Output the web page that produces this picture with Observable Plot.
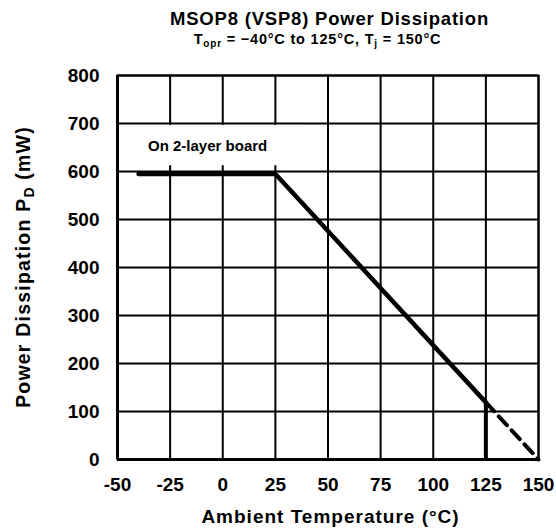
<!DOCTYPE html>
<html>
<head>
<meta charset="utf-8">
<script src="https://cdn.jsdelivr.net/npm/d3@7"></script>
<script src="https://cdn.jsdelivr.net/npm/@observablehq/plot@0.6"></script>
<style>
  html, body { margin: 0; padding: 0; background: #fff; }
  #chart svg { display: block; font-family: "Liberation Sans", Arial, sans-serif; }
</style>
</head>
<body>
<div id="chart"></div>
<script>
// Data
const xTicks = [-50, -25, 0, 25, 50, 75, 100, 125, 150];
const yTicks = [0, 100, 200, 300, 400, 500, 600, 700, 800];
const solidTemps = [-40, 25, 125];
const solidPower = [595, 595, 119];
const dashTemps = [125, 150];
const dashPower = [119, 0];
const limitTemp = [125];
const limitPower = [119];
const boardLabel = ["On 2-layer board"];
const labelBox = {x1: -50, x2: 37, y1: 612, y2: 696};
const labelPos = {x: -35.5, y: 652};

const solid = solidTemps.map((t, i) => ({t, p: solidPower[i]}));
const dashed = dashTemps.map((t, i) => ({t, p: dashPower[i]}));

const W = 556, H = 532;
const plot = Plot.plot({
  width: W,
  height: H,
  marginTop: 75,
  marginBottom: 73,
  marginLeft: 117,
  marginRight: 18,
  x: {domain: [-50, 150]},
  y: {domain: [0, 800]},
  style: {fontFamily: "'Liberation Sans', Arial, sans-serif", background: "#fff"},
  marks: [
    Plot.ruleX(xTicks, {stroke: "#000", strokeWidth: 2, strokeOpacity: 1}),
    Plot.ruleY(yTicks, {stroke: "#000", strokeWidth: 2, strokeOpacity: 1}),
    Plot.rect([labelBox], {x1: "x1", x2: "x2", y1: "y1", y2: "y2", fill: "#fff"}),
    Plot.text(boardLabel, {x: labelPos.x, y: labelPos.y, text: d => d, textAnchor: "start", fontSize: 15, fontWeight: "bold", fill: "#000"}),
    Plot.frame({stroke: "#000", strokeWidth: 2}),
    Plot.ruleX([-50], {stroke: "#000", strokeWidth: 3}),
    Plot.ruleY([0], {stroke: "#000", strokeWidth: 3}),
    Plot.line(solid, {x: "t", y: "p", stroke: "#000", strokeWidth: 4.5, strokeLinejoin: "miter"}),
    Plot.line(dashed, {x: "t", y: "p", stroke: "#000", strokeWidth: 4, strokeDasharray: "12,7"}),
    Plot.ruleX(limitTemp, {y1: 0, y2: (d, i) => limitPower[i], stroke: "#000", strokeWidth: 4}),
    Plot.axisX(xTicks, {tickSize: 0, tickPadding: 18, fontSize: 19, fontWeight: "bold", tickFormat: d => String(d), label: null, fill: "#000"}),
    Plot.axisY(yTicks, {tickSize: 0, tickPadding: 18, fontSize: 19, fontWeight: "bold", tickFormat: d => String(d), label: null, fill: "#000"})
  ]
});

const svg = d3.select(plot);
const cx = (117 + (W - 18)) / 2;
const cy = (75 + (H - 73)) / 2;

svg.append("text")
  .attr("x", cx + 2).attr("y", 25)
  .attr("text-anchor", "middle")
  .attr("font-size", 18.5).attr("font-weight", "bold")
  .style("letter-spacing", "0.8px")
  .text("MSOP8 (VSP8) Power Dissipation");

const sub = svg.append("text")
  .attr("x", cx - 10).attr("y", 44)
  .attr("text-anchor", "middle")
  .attr("font-size", 14.5).attr("font-weight", "bold")
  .style("letter-spacing", "0.8px");
sub.append("tspan").text("T");
sub.append("tspan").attr("font-size", 10).attr("dy", 3).text("opr");
sub.append("tspan").attr("dy", -3).text(" = −40°C to 125°C, T");
sub.append("tspan").attr("font-size", 10).attr("dy", 3).text("j");
sub.append("tspan").attr("dy", -3).text(" = 150°C");

svg.append("text")
  .attr("x", cx + 3).attr("y", 523)
  .attr("text-anchor", "middle")
  .attr("font-size", 19).attr("font-weight", "bold")
  .style("letter-spacing", "1px")
  .text("Ambient Temperature (°C)");

const yl = svg.append("text")
  .attr("transform", `translate(30,${cy}) rotate(-90)`)
  .attr("text-anchor", "middle")
  .attr("font-size", 19.5).attr("font-weight", "bold")
  .style("letter-spacing", "1.2px");
yl.append("tspan").text("Power Dissipation P");
yl.append("tspan").attr("font-size", 14).attr("dy", 4).text("D");
yl.append("tspan").attr("dy", -4).text(" (mW)");

document.getElementById("chart").appendChild(plot);
</script>
</body>
</html>
